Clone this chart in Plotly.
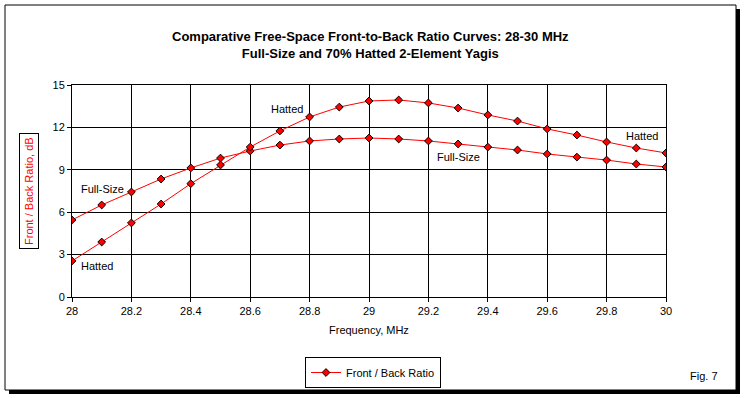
import plotly.graph_objects as go

freq = [28.0, 28.1, 28.2, 28.3, 28.4, 28.5, 28.6, 28.7, 28.8, 28.9, 29.0,
        29.1, 29.2, 29.3, 29.4, 29.5, 29.6, 29.7, 29.8, 29.9, 30.0]
full_size = [5.45, 6.51, 7.43, 8.35, 9.13, 9.83, 10.33, 10.75, 11.04, 11.18, 11.25,
             11.18, 11.04, 10.83, 10.61, 10.40, 10.12, 9.90, 9.69, 9.41, 9.20]
hatted = [2.55, 3.89, 5.24, 6.58, 8.02, 9.34, 10.61, 11.75, 12.74, 13.44, 13.87,
          13.94, 13.73, 13.37, 12.88, 12.45, 11.89, 11.46, 10.97, 10.54, 10.19]
x_ticks = [28.0, 28.2, 28.4, 28.6, 28.8, 29.0, 29.2, 29.4, 29.6, 29.8, 30.0]
x_tick_labels = ["28", "28.2", "28.4", "28.6", "28.8", "29", "29.2", "29.4", "29.6", "29.8", "30"]
y_ticks = [0, 3, 6, 9, 12, 15]

W, H = 744, 398
L, R, T, B = 72, 666, 85, 297


def px(x):
    return (x - L) / (R - L)


def py(y):
    return (B - y) / (B - T)


FONT = "Liberation Sans, Arial, sans-serif"

marker = dict(symbol="diamond", size=6, color="#ff0000", line=dict(color="black", width=1))
line = dict(color="#ff0000", width=1)

fig = go.Figure()
fig.add_trace(go.Scatter(x=freq, y=full_size, mode="lines+markers", line=line, marker=marker,
                         name="Front / Back Ratio", showlegend=True))
fig.add_trace(go.Scatter(x=freq, y=hatted, mode="lines+markers", line=line, marker=marker,
                         name="Hatted", showlegend=False))

shapes = [
    # shadow
    dict(type="rect", xref="paper", yref="paper", x0=px(9), x1=px(740), y0=py(9), y1=py(394),
         fillcolor="black", line=dict(width=0), layer="below"),
    # frame
    dict(type="rect", xref="paper", yref="paper", x0=px(5), x1=px(736), y0=py(5), y1=py(390),
         fillcolor="white", line=dict(color="black", width=1), layer="below"),
]

lbl = dict(size=11, color="black", family=FONT)
annotations = [
    dict(text="<b>Comparative Free-Space Front-to-Back Ratio Curves: 28-30 MHz<br>Full-Size and 70% Hatted 2-Element Yagis</b>",
         xref="paper", yref="paper", x=px(370), y=py(45), showarrow=False,
         font=dict(size=13, color="black", family=FONT), xanchor="center", yanchor="middle"),
    dict(text="Front / Back Ratio, dB", xref="paper", yref="paper", x=px(29), y=py(191),
         textangle=-90, showarrow=False, font=dict(size=11, color="#ff0000", family=FONT),
         xanchor="center", yanchor="middle",
         bordercolor="black", borderwidth=1, borderpad=3, bgcolor="white"),
    dict(text="Frequency, MHz", xref="paper", yref="paper", x=px(369), y=py(330), showarrow=False,
         xanchor="center", yanchor="middle", font=lbl),
    dict(text="Fig. 7", xref="paper", yref="paper", x=px(704), y=py(376), showarrow=False,
         xanchor="center", yanchor="middle", font=lbl),
    dict(text="Hatted", x=28.724, y=13.30, showarrow=False, font=lbl),
    dict(text="Full-Size", x=28.101, y=7.64, showarrow=False, font=lbl),
    dict(text="Hatted", x=28.084, y=2.19, showarrow=False, font=lbl),
    dict(text="Hatted", x=29.919, y=11.39, showarrow=False, font=lbl),
    dict(text="Full-Size", x=29.30, y=9.91, showarrow=False, font=lbl),
]

fig.update_layout(
    width=W, height=H,
    margin=dict(l=L, r=W - R, t=T, b=H - B, pad=0, autoexpand=False),
    paper_bgcolor="white", plot_bgcolor="rgba(0,0,0,0)",
    font=dict(family=FONT, size=11, color="black"),
    shapes=shapes, annotations=annotations,
    showlegend=True,
    legend=dict(x=px(305), y=py(357), xanchor="left", yanchor="top",
                bordercolor="black", borderwidth=1, bgcolor="white",
                font=dict(size=11, color="black", family=FONT),
                itemwidth=30, tracegroupgap=0),
    xaxis=dict(range=[28, 30], tickvals=x_ticks, ticktext=x_tick_labels,
               showgrid=True, gridcolor="black", gridwidth=1,
               showline=True, linecolor="black", linewidth=1, mirror=True,
               ticks="outside", ticklen=4, tickcolor="black", zeroline=False,
               tickfont=dict(size=11, family=FONT)),
    yaxis=dict(range=[0, 15], tickvals=y_ticks,
               showgrid=True, gridcolor="black", gridwidth=1,
               showline=True, linecolor="black", linewidth=1, mirror=True,
               ticks="outside", ticklen=4, tickcolor="black", zeroline=False,
               tickfont=dict(size=11, family=FONT)),
)

fig.write_html("out.html", config={"displayModeBar": False},
               post_script="document.body.style.margin='0';")
